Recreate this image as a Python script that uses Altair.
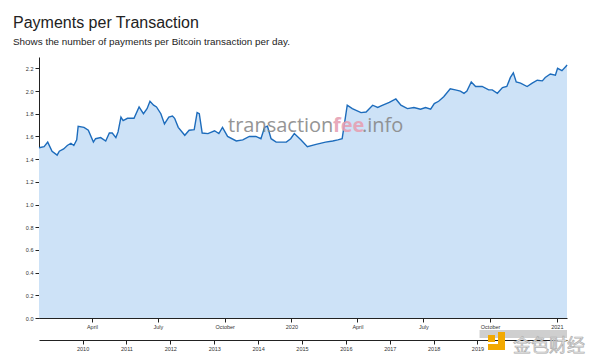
import altair as alt
import pandas as pd

dates = [
    "2019-01-18", "2019-01-25", "2019-01-30", "2019-02-05", "2019-02-12", "2019-02-15", "2019-02-21", "2019-02-26", "2019-03-03", "2019-03-07",
    "2019-03-11", "2019-03-13", "2019-03-21", "2019-03-27", "2019-04-03", "2019-04-06", "2019-04-13", "2019-04-20", "2019-04-25", "2019-04-29",
    "2019-05-04", "2019-05-07", "2019-05-11", "2019-05-14", "2019-05-20", "2019-05-29", "2019-06-05", "2019-06-11", "2019-06-16", "2019-06-20",
    "2019-06-25", "2019-06-29", "2019-07-05", "2019-07-10", "2019-07-16", "2019-07-21", "2019-07-24", "2019-07-29", "2019-08-07", "2019-08-13",
    "2019-08-20", "2019-08-24", "2019-08-27", "2019-08-31", "2019-09-08", "2019-09-17", "2019-09-23", "2019-09-28", "2019-10-05", "2019-10-17",
    "2019-10-26", "2019-11-04", "2019-11-13", "2019-11-20", "2019-11-25", "2019-11-29", "2019-12-04", "2019-12-11", "2019-12-25", "2019-12-31",
    "2020-01-05", "2020-01-14", "2020-01-23", "2020-02-04", "2020-02-17", "2020-02-27", "2020-03-05", "2020-03-11", "2020-03-18", "2020-03-25",
    "2020-04-06", "2020-04-13", "2020-04-22", "2020-04-29", "2020-05-06", "2020-05-15", "2020-05-24", "2020-05-31", "2020-06-09", "2020-06-18",
    "2020-06-27", "2020-07-04", "2020-07-11", "2020-07-16", "2020-07-22", "2020-07-29", "2020-08-07", "2020-08-14", "2020-08-21", "2020-08-26",
    "2020-08-30", "2020-09-05", "2020-09-11", "2020-09-20", "2020-09-29", "2020-10-04", "2020-10-11", "2020-10-18", "2020-10-24", "2020-10-29",
    "2020-11-02", "2020-11-06", "2020-11-12", "2020-11-21", "2020-11-28", "2020-12-05", "2020-12-12", "2020-12-16", "2020-12-23", "2020-12-30",
    "2021-01-02", "2021-01-08", "2021-01-14", "2021-01-15",
]

payments_per_tx = [
    1.50, 1.51, 1.55, 1.47, 1.435, 1.47, 1.49, 1.52, 1.54, 1.52,
    1.57, 1.69, 1.68, 1.655, 1.55, 1.58, 1.59, 1.56, 1.63, 1.63,
    1.59, 1.64, 1.77, 1.74, 1.76, 1.76, 1.86, 1.80, 1.845, 1.91,
    1.875, 1.86, 1.80, 1.71, 1.77, 1.78, 1.76, 1.68, 1.61, 1.655,
    1.66, 1.81, 1.80, 1.63, 1.625, 1.65, 1.625, 1.68, 1.60, 1.56,
    1.57, 1.60, 1.60, 1.58, 1.68, 1.69, 1.58, 1.55, 1.55, 1.58,
    1.625, 1.57, 1.51, 1.53, 1.55, 1.56, 1.57, 1.58, 1.875, 1.845,
    1.81, 1.815, 1.875, 1.855, 1.875, 1.90, 1.93, 1.875, 1.845, 1.855,
    1.84, 1.855, 1.84, 1.89, 1.91, 1.95, 2.02, 2.01, 2.00, 1.98,
    2.00, 2.08, 2.04, 2.04, 2.01, 2.01, 1.98, 2.03, 2.04, 2.12,
    2.16, 2.08, 2.07, 2.04, 2.07, 2.095, 2.09, 2.12, 2.15, 2.14,
    2.20, 2.18, 2.22, 2.23,
]

y_ticks = [0.0, 0.2, 0.4, 0.6, 0.8, 1.0, 1.2, 1.4, 1.6, 1.8, 2.0, 2.2]

# navigator (full history) year labels and current selection
nav_years = [2010, 2011, 2012, 2013, 2014, 2015, 2016, 2017, 2018, 2019]
nav_start = ["2019-01-18"]
nav_end = ["2021-01-15"]

TITLE = "Payments per Transaction"
SUBTITLE = "Shows the number of payments per Bitcoin transaction per day."

df = pd.DataFrame({"date": dates, "ppt": payments_per_tx})
nav_df = pd.DataFrame({"start": nav_start, "end": nav_end})
one = pd.DataFrame({"a": [0]})

LABEL_FONT = "Liberation Sans"
axis_common = dict(
    labelFont=LABEL_FONT, labelFontSize=5.5, labelColor="#333333",
    domainColor="#222222", tickColor="#222222", domainWidth=1, tickWidth=1,
    tickSize=4, labelPadding=2, grid=False, title=None,
)

x_main = alt.X(
    "date:T",
    scale=alt.Scale(domain=[alt.DateTime(year=2019, month=1, date=18),
                            alt.DateTime(year=2021, month=1, date=15)]),
    axis=alt.Axis(tickCount={"interval": "month", "step": 3}, orient="bottom", **axis_common),
)
y_main = alt.Y(
    "ppt:Q",
    scale=alt.Scale(domain=[0, 2.3], nice=False),
    axis=alt.Axis(values=y_ticks, format=".1f", **axis_common),
)

area = alt.Chart(df).mark_area(color="#cde2f7", opacity=1).encode(x=x_main, y=y_main)
line = alt.Chart(df).mark_line(color="#1d6cbc", strokeWidth=1.4).encode(x=x_main, y=y_main)
main = alt.layer(area, line)

nav = alt.Chart(nav_df).mark_rect(color="#cfcfcf").encode(
    x=alt.X(
        "start:T",
        scale=alt.Scale(domain=[alt.DateTime(year=2009, month=1, date=3),
                                alt.DateTime(year=2021, month=1, date=15)]),
        axis=alt.Axis(values=[alt.DateTime(year=y, month=1, date=1) for y in nav_years],
                      format="%Y", orient="bottom", offset=22, **axis_common),
    ),
    x2="end:T",
    y=alt.value(273),
    y2=alt.value(281),
)

wm_font = "Open Sans"
wm1 = alt.Chart(one).mark_text(text="transaction", font=wm_font, fontSize=20, align="left",
                               baseline="alphabetic", color="#8a8a8a", opacity=0.9).encode(
    x=alt.value(189), y=alt.value(75))
wm2 = alt.Chart(one).mark_text(text="fee", font=wm_font, fontSize=20, align="left",
                               baseline="alphabetic", color="#e6a1b4", fontWeight="bold", opacity=0.9).encode(
    x=alt.value(294), y=alt.value(75))
wm3 = alt.Chart(one).mark_text(text=".info", font=wm_font, fontSize=20, align="left",
                               baseline="alphabetic", color="#8a8a8a", opacity=0.9).encode(
    x=alt.value(323), y=alt.value(75))

logo_sq = alt.Chart(one).mark_rect(color="#f2a900").encode(
    x=alt.value(449), x2=alt.value(456), y=alt.value(278), y2=alt.value(285))
logo_v = alt.Chart(one).mark_rect(color="#f2a900").encode(
    x=alt.value(459), x2=alt.value(466), y=alt.value(275), y2=alt.value(293))
logo_h = alt.Chart(one).mark_rect(color="#f2a900").encode(
    x=alt.value(449), x2=alt.value(466), y=alt.value(287), y2=alt.value(293))
logo_txt = alt.Chart(one).mark_text(text="金色财经", font="Noto Sans CJK SC", fontSize=18,
                                    align="left", baseline="alphabetic", color="#e4e4e4",
                                    stroke="#b0b0b0", strokeWidth=0.7).encode(
    x=alt.value(474), y=alt.value(295))

chart = alt.layer(main, nav, wm1, wm2, wm3, logo_sq, logo_v, logo_h, logo_txt).resolve_scale(
    x="independent"
).properties(
    width=528,
    height=261,
    autosize=alt.AutoSizeParams(type="none"),
    padding={"left": 31, "top": 49, "right": 25, "bottom": 38},
    title=alt.TitleParams(
        text=TITLE, subtitle=SUBTITLE, anchor="start", frame="group", dx=-26,
        font=LABEL_FONT, fontSize=16, fontWeight="normal", color="#222222",
        subtitleFont=LABEL_FONT, subtitleFontSize=9.9, subtitleColor="#222222",
        subtitlePadding=6, offset=10,
    ),
).configure_view(strokeWidth=0)

chart.save("out.html", embed_options={"renderer": "svg", "actions": False})
